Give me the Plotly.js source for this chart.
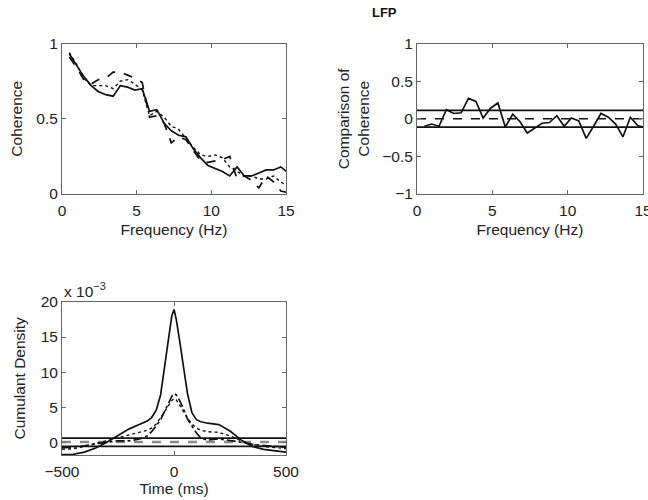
<!DOCTYPE html>
<html>
<head>
<meta charset="utf-8">
<script src="https://cdn.plot.ly/plotly-3.0.1.min.js"></script>
<style>
  html, body { margin: 0; padding: 0; background: #fff; }
  #chart { width: 648px; height: 500px; }
</style>
</head>
<body>
<div id="chart"></div>
<script>
// Frequency bins (Hz) for the coherence spectra
const freq = [0.49, 0.98, 1.46, 1.95, 2.44, 2.93, 3.42, 3.91, 4.39, 4.88, 5.37, 5.86, 6.35, 6.84, 7.32, 7.81,
              8.30, 8.79, 9.28, 9.77, 10.25, 10.74, 11.23, 11.72, 12.21, 12.70, 13.18, 13.67, 14.16, 14.65, 15.14];

// Coherence estimates
const cohSolid  = [0.93, 0.85, 0.78, 0.72, 0.68, 0.66, 0.65, 0.72, 0.71, 0.69, 0.70, 0.55, 0.56, 0.47, 0.42, 0.39,
                   0.38, 0.30, 0.24, 0.19, 0.17, 0.15, 0.12, 0.18, 0.12, 0.12, 0.14, 0.16, 0.16, 0.18, 0.14];
const cohDashed = [0.91, 0.84, 0.76, 0.73, 0.76, 0.77, 0.81, 0.81, 0.79, 0.77, 0.74, 0.51, 0.52, 0.47, 0.34, 0.38,
                   0.36, 0.29, 0.22, 0.21, 0.22, 0.23, 0.25, 0.10, 0.12, 0.09, 0.04, 0.12, 0.08, 0.02, 0.01];
const cohDotted = [0.94, 0.86, 0.77, 0.72, 0.72, 0.72, 0.70, 0.75, 0.76, 0.73, 0.69, 0.52, 0.55, 0.51, 0.45, 0.43,
                   0.37, 0.31, 0.26, 0.25, 0.26, 0.24, 0.18, 0.15, 0.12, 0.12, 0.10, 0.10, 0.12, 0.08, 0.05];

// Comparison of coherence with its confidence limits
const comparison = [-0.10, -0.07, -0.10, 0.12, 0.07, 0.08, 0.27, 0.23, 0.01, 0.14, 0.21, -0.11, 0.06, -0.04, -0.19, -0.12,
                    -0.06, -0.05, 0.04, -0.10, 0.01, -0.03, -0.26, -0.10, 0.07, 0.02, -0.07, -0.24, 0.02, -0.09, -0.12];
const compRange = [0, 15];
const compUpper = [0.11, 0.11];
const compLower = [-0.11, -0.11];
const compZero  = [0, 0];

// Cumulant density (units of 1e-3) against lag (ms)
const lag = [-500, -450, -400, -350, -300, -250, -200, -150, -120, -100, -80, -60, -40, -25, -10, 0,
             10, 25, 40, 60, 80, 100, 120, 150, 200, 250, 300, 350, 400, 450, 500];
const cumSolid   = [-1.65, -1.6, -1.3, -0.7, 0.1, 1.1, 2.0, 2.7, 3.1, 3.6, 4.6, 6.8, 11.3, 15.0, 18.0, 18.9,
                    17.5, 14.5, 11.0, 7.0, 4.3, 3.3, 3.0, 2.8, 2.6, 1.7, 0.4, -0.5, -0.9, -1.1, -1.3];
const cumDashDot = [-0.7, -0.6, -0.4, -0.1, 0.1, 0.3, 0.3, 0.6, 1.0, 1.6, 2.4, 3.3, 4.6, 5.6, 6.6, 7.0,
                    6.8, 6.0, 5.0, 3.4, 2.3, 1.4, 0.7, 0.4, 0.6, 0.4, 0.1, -0.2, -0.4, -0.5, -0.6];
const cumDotted  = [-0.9, -0.8, -0.5, -0.1, 0.3, 0.8, 1.2, 1.5, 1.8, 2.1, 2.7, 3.6, 4.6, 5.4, 6.0, 6.3,
                    6.1, 5.4, 4.5, 3.5, 2.7, 2.1, 1.8, 1.6, 1.5, 1.0, 0.3, -0.2, -0.5, -0.7, -0.8];
const lagRange = [-500, 500];
const cumUpper = [0.7, 0.7];
const cumLower = [-0.48, -0.48];
const cumMean  = [0.15, 0.15];

const ink = '#111';
const lw = 1.7;
const font = { family: 'Liberation Sans, Arial, sans-serif', size: 15.5, color: '#222' };

function line(x, y, xa, ya, dash, width, color) {
  return { x: x, y: y, xaxis: xa, yaxis: ya, mode: 'lines', type: 'scatter', hoverinfo: 'skip',
           line: { color: color || ink, width: width || lw, dash: dash || 'solid' } };
}

const traces = [
  line(freq, cohDotted, 'x', 'y', 'dot', 1.4),
  line(freq, cohDashed, 'x', 'y', 'dash'),
  line(freq, cohSolid, 'x', 'y', 'solid'),

  line(compRange, compUpper, 'x2', 'y2', 'solid'),
  line(compRange, compLower, 'x2', 'y2', 'solid'),
  line(compRange, compZero, 'x2', 'y2', 'dash'),
  line(freq, comparison, 'x2', 'y2', 'solid'),

  line(lagRange, cumMean, 'x3', 'y3', 'dash', 2.6, '#8a8a8a'),
  line(lagRange, cumUpper, 'x3', 'y3', 'solid'),
  line(lagRange, cumLower, 'x3', 'y3', 'solid'),
  line(lag, cumDotted, 'x3', 'y3', 'dot', 1.4),
  line(lag, cumDashDot, 'x3', 'y3', 'dashdot'),
  line(lag, cumSolid, 'x3', 'y3', 'solid')
];

function axis(extra) {
  return Object.assign({
    showgrid: false, zeroline: false, showline: true, mirror: 'ticks',
    linecolor: '#666', linewidth: 1, ticks: 'inside', ticklen: 4, tickcolor: '#666',
    tickfont: font, ticklabeloverflow: 'allow', automargin: false
  }, extra);
}

const layout = {
  width: 648, height: 500,
  margin: { l: 0, r: 0, t: 0, b: 0 },
  paper_bgcolor: '#fff', plot_bgcolor: '#fff',
  showlegend: false,
  font: font,
  title: { text: '<b>LFP</b>', x: 0.593, xanchor: 'center', y: 0.976, yanchor: 'middle',
           font: { family: 'Liberation Sans, Arial, sans-serif', size: 13, color: '#111' } },
  xaxis: axis({ domain: [0.0957, 0.4414], range: [0, 15], tickvals: [0, 5, 10, 15], anchor: 'y',
                ticklabelstandoff: 2, title: { text: 'Frequency (Hz)', font: font, standoff: 6 } }),
  yaxis: axis({ domain: [0.612, 0.913], range: [0, 1], tickvals: [0, 0.5, 1], anchor: 'x',
                title: { text: 'Coherence', font: font, standoff: 9 } }),
  xaxis2: axis({ domain: [0.6435, 0.9923], range: [0, 15], tickvals: [0, 5, 10, 15], anchor: 'y2',
                 ticklabelstandoff: 2, title: { text: 'Frequency (Hz)', font: font, standoff: 6 } }),
  yaxis2: axis({ domain: [0.612, 0.913], range: [-1, 1], tickvals: [-1, -0.5, 0, 0.5, 1], anchor: 'x2',
                 title: { text: 'Comparison of<br>Coherence', font: font, standoff: 8 } }),
  xaxis3: axis({ domain: [0.0957, 0.4414], range: [-500, 500], tickvals: [-500, 0, 500], anchor: 'y3',
                 ticklabelstandoff: 2, title: { text: 'Time (ms)', font: font, standoff: 3 } }),
  yaxis3: axis({ domain: [0.09, 0.3966], range: [-1.7, 20], tickvals: [0, 5, 10, 15, 20], anchor: 'x3',
                 title: { text: 'Cumulant Density', font: font, standoff: 11 } }),
  annotations: [
    { text: 'x 10<sup>−3</sup>', xref: 'paper', yref: 'paper', x: 0.0957, y: 0.3966,
      xanchor: 'left', yanchor: 'bottom', showarrow: false, font: font }
  ]
};

Plotly.newPlot('chart', traces, layout, { staticPlot: true, displayModeBar: false });
</script>
</body>
</html>
